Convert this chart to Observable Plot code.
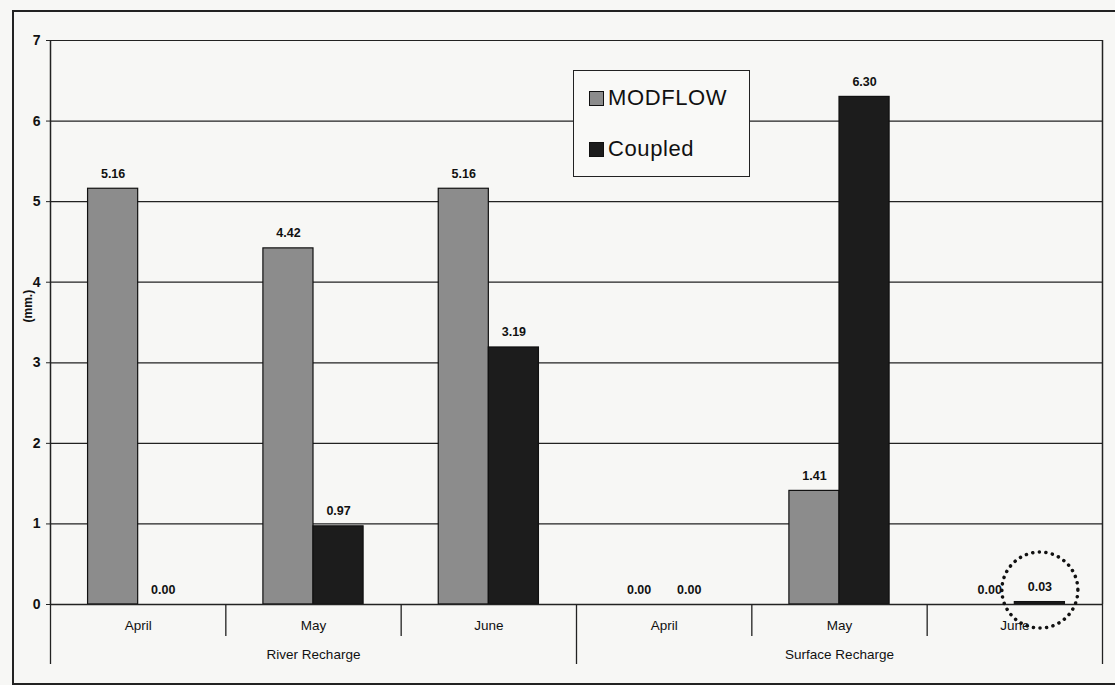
<!DOCTYPE html>
<html><head><meta charset="utf-8">
<script src="https://cdn.jsdelivr.net/npm/d3@7"></script>
<script src="https://cdn.jsdelivr.net/npm/@observablehq/plot@0.6"></script>
<style>
body{margin:0;background:#f7f7f5;font-family:"Liberation Sans",Arial,sans-serif;overflow:hidden}
#wrap{position:relative;width:1115px;height:685px;overflow:hidden}
#border{position:absolute;left:12px;top:10px;width:1120px;height:671px;border:2px solid #222;pointer-events:none}
#legend{position:absolute;left:573px;top:70px;width:175px;height:105px;border:1.5px solid #222;background:#f9f9f7;color:#111}
.item{position:absolute;left:15px;display:flex;align-items:center;font-size:22px;letter-spacing:0.6px}
.sw{width:13px;height:13px;border:1.2px solid #111;margin-right:4px}
</style></head>
<body>
<div id="wrap"><div id="chart"></div><div id="border"></div>
<div id="legend">
 <div class="item" style="top:14px"><div class="sw" style="background:#8c8c8c"></div>MODFLOW</div>
 <div class="item" style="top:65px"><div class="sw" style="background:#1c1c1c"></div>Coupled</div>
</div></div>
<script>
const categories = ["April","May","June","April","May","June"];
const groups = ["River Recharge","Surface Recharge"];
const series = ["MODFLOW","Coupled"];
const modflow = [5.16,4.42,5.16,0.00,1.41,0.00];
const coupled = [0.00,0.97,3.19,0.00,6.30,0.03];
const yTicks = [0,1,2,3,4,5,6,7];

const barFrac = 2/7;
const pad = (1 - 2*barFrac)/2;
const rows = [];
categories.forEach((c,i)=>{
  rows.push({i, series:"MODFLOW", value: modflow[i]});
  rows.push({i, series:"Coupled", value: coupled[i]});
});
rows.forEach(d=>{
  d.x1 = d.i + pad + (d.series==="Coupled" ? barFrac : 0);
  d.x2 = d.x1 + barFrac;
  d.xc = (d.x1 + d.x2)/2;
});
const highlighted = rows.filter(d=>d.i===5 && d.series==="Coupled");
const catCenters = categories.map((c,i)=>i+0.5);
const groupCenters = groups.map((g,i)=>i*3+1.5);

const chart = Plot.plot({
  width:1115, height:685,
  marginLeft:50, marginRight:13, marginTop:40, marginBottom:81,
  x:{domain:[0,6], axis:null},
  y:{domain:[0,7], axis:null},
  color:{domain:series, range:["#8c8c8c","#1c1c1c"]},
  style:{background:"transparent", fontFamily:"Liberation Sans, Arial, sans-serif", color:"#111", overflow:"visible"},
  marks:[
    Plot.gridY(yTicks, {stroke:"#222", strokeOpacity:1, strokeWidth:1.2}),
    Plot.axisY({ticks:yTicks, tickSize:4, tickPadding:6, tickFormat:"d", fontWeight:"bold", fontSize:14, label:null, stroke:"#222"}),
    Plot.rectY(rows, {x1:"x1", x2:"x2", y:"value", fill:"series", stroke:"#111", strokeWidth:1.2}),
    Plot.text(rows, {x:"xc", y:"value", text:d=>d.value.toFixed(2), dy:-15, fontWeight:"bold", fontSize:12.5, fill:"#111"}),
    Plot.ruleX([0,6], {y1:0, y2:7, stroke:"#222", strokeWidth:1.5}),
    Plot.ruleY([0], {stroke:"#222", strokeWidth:1.5}),
    Plot.axisX({ticks:[1,2,4,5], tickSize:32, tickFormat:()=>"", label:null, stroke:"#222", strokeWidth:1.3}),
    Plot.axisX({ticks:[0,3,6], tickSize:60, tickFormat:()=>"", label:null, stroke:"#222", strokeWidth:1.3}),
    Plot.axisX({ticks:catCenters, tickSize:0, tickPadding:16, tickFormat:v=>categories[Math.floor(v)], label:null, fontSize:13.5, fill:"#111", stroke:"#111", strokeWidth:0.3}),
    Plot.axisX({ticks:groupCenters, tickSize:0, tickPadding:45, tickFormat:v=>groups[Math.floor(v/3)], label:null, fontSize:13.5, fill:"#111", stroke:"#111", strokeWidth:0.3}),
    Plot.text(["(mm.)"], {frameAnchor:"left", rotate:-90, dx:-22, fontWeight:"bold", fontSize:12, fill:"#111"}),
    Plot.dot(highlighted, {x:"xc", y:"value", r:38, dy:-12, fill:"none", stroke:"#111", strokeWidth:3.5, strokeDasharray:"0.1 6.5", strokeLinecap:"round"})
  ]
});
document.getElementById("chart").append(chart);
</script>
</body></html>
